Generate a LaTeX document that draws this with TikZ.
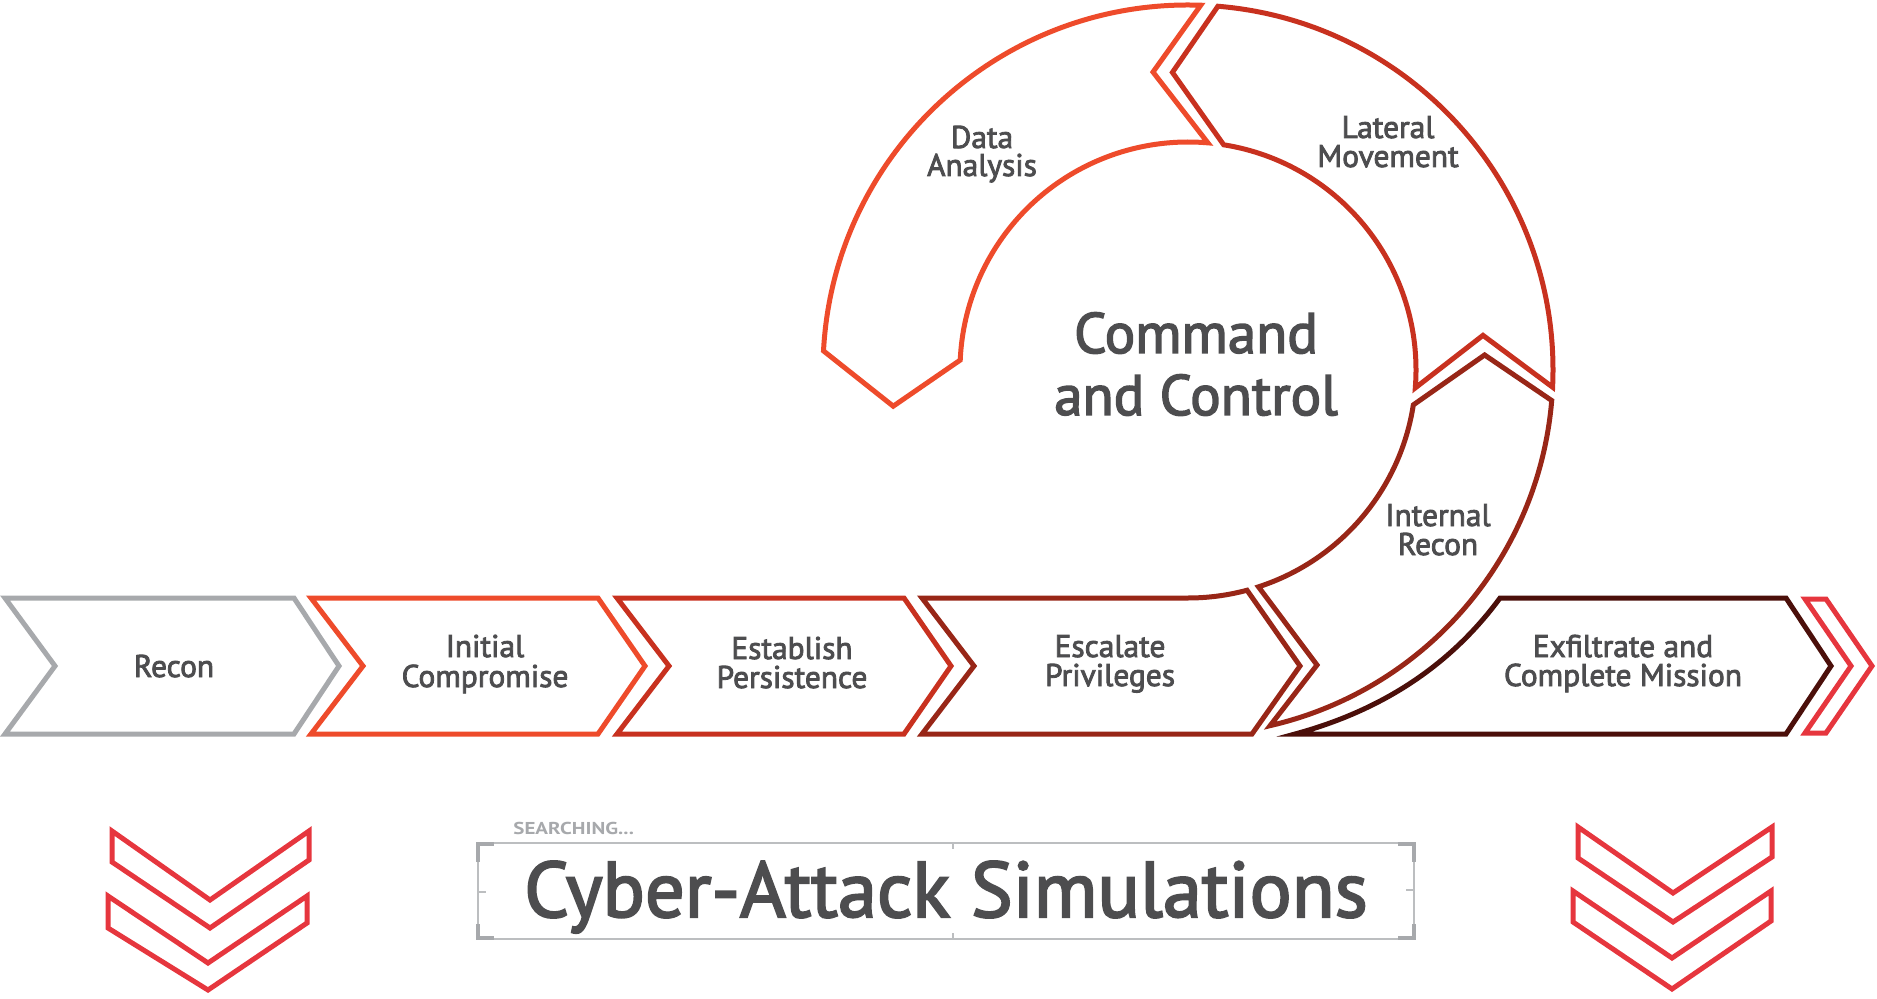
\documentclass[tikz,border=0pt]{standalone}
\usepackage{fontspec}
\setmainfont{PT Sans}
\newfontfamily\semib{PT Sans}[FakeBold=2.6]
\usetikzlibrary{calc}
\definecolor{cgray}{HTML}{A7A9AC}
\definecolor{corange}{HTML}{EE4B2B}
\definecolor{cred}{HTML}{C8311F}
\definecolor{cdark}{HTML}{982617}
\definecolor{cmaroon}{HTML}{4B0F0A}
\definecolor{cchev}{HTML}{E6363E}
\definecolor{ctxt}{HTML}{4D4D4F}
\definecolor{cbox}{HTML}{BCBEC0}
\begin{document}
\begin{tikzpicture}[x=0.5pt,y=-0.5pt,
  seg/.style={line width=2.5pt, line join=miter, fill=white},
  lbl/.style={font=\semib\fontsize{15.7}{16}\selectfont, text=ctxt, anchor=base, inner sep=0pt},
  biglbl/.style={font=\semib\fontsize{28.5}{30}\selectfont, text=ctxt, anchor=base, inner sep=0pt},
  chev/.style={line width=2.5pt, draw=cchev, line join=miter},
  bracket/.style={line width=2pt, draw=cgray},
  tick/.style={line width=0.75pt, draw=cbox}]
\useasboundingbox (0,0) rectangle (1877,999);
\coordinate (C) at (1188,370);

% ---- bottom row of stages ----
\draw[seg, draw=cgray]   (5,598) -- (294,598) -- (339,666) -- (294,734) -- (5,734) -- (55,666) -- cycle;
\draw[seg, draw=corange] (311,598) -- (598,598) -- (645,666) -- (598,734) -- (311,734) -- (363,666) -- cycle;
\draw[seg, draw=cred]    (617,598) -- (904,598) -- (951,666) -- (904,734) -- (617,734) -- (669,666) -- cycle;
\draw[seg, draw=cdark]   (922,598) -- (1188,598) arc[start angle=90, end angle=75, radius=228]
      -- (1300,666) -- (1252,734) -- (922,734) -- (974,666) -- cycle;
\draw[seg, draw=cmaroon] (1500,598) -- (1786,598) -- (1831,666) -- (1786,734) -- (1295,734)
      .. controls (1376,712) and (1447,670) .. (1500,598) -- cycle;
\draw[chev, fill=white] (1805,599) -- (1826,599) -- (1872,666) -- (1826,733) -- (1805,733) -- (1851,666) -- cycle;

% ---- command and control ring ----
\draw[seg, draw=corange] ($(C)+(-88:365)$) arc[start angle=-88, end angle=-177, radius=365]
      -- ($(C)+(-187:297)$) -- ($(C)+(-177.5:228)$) arc[start angle=-177.5, end angle=-85, radius=228]
      -- ($(C)+(-96.7:300)$) -- cycle;
\draw[seg, draw=cred] ($(C)+(-85.3:365)$) arc[start angle=-85.3, end angle=2.7, radius=365]
      -- ($(C)+(-6.7:297)$) -- ($(C)+(4.5:228)$) arc[start angle=4.5, end angle=-81, radius=228]
      -- ($(C)+(-93:298)$) -- cycle;
\draw[seg, draw=cdark] ($(C)+(4.8:365)$) arc[start angle=4.8, end angle=77, radius=365]
      -- (1317,665) -- ($(C)+(72:228)$) arc[start angle=72, end angle=8.8, radius=228]
      -- ($(C)+(-2.9:297)$) -- cycle;

% ---- labels ----
\node[lbl] (recon) at (174,677) {Recon};
\node[lbl] (ic1) at (485,657) {Initial};
\node[lbl] (ic2) at (485,687) {Compromise};
\node[lbl] (ep1) at (792,659) {Establish};
\node[lbl] (ep2) at (792,688) {Persistence};
\node[lbl] (es1) at (1110,657) {Escalate};
\node[lbl] (es2) at (1110,686) {Privileges};
\node[lbl] (ex1) at (1623,657) {Exfiltrate and};
\node[lbl] (ex2) at (1623,686) {Complete Mission};
\node[lbl] (da1) at (982,148) {Data};
\node[lbl] (da2) at (982,176) {Analysis};
\node[lbl] (lm1) at (1388,138) {Lateral};
\node[lbl] (lm2) at (1388,167) {Movement};
\node[lbl] (ir1) at (1438,526) {Internal};
\node[lbl] (ir2) at (1438,555) {Recon};
\node[biglbl] (cc1) at (1196,353) {Command};
\node[biglbl] (cc2) at (1196,415) {and Control};

% ---- title box ----
\draw[line width=0.75pt, draw=cbox] (478,843) rectangle (1414,939);
\draw[bracket] (478,862) -- (478,844) -- (494,844);
\draw[bracket] (478,924) -- (478,938) -- (494,938);
\draw[bracket] (1398,844) -- (1414,844) -- (1414,862);
\draw[bracket] (1398,938) -- (1414,938) -- (1414,924);
\draw[tick] (478,892) -- (486,892);
\draw[tick] (1406,890) -- (1414,890);
\draw[tick] (953,843) -- (953,849);
\draw[tick] (953,933) -- (953,939);
\node[anchor=base west, inner sep=0pt, text=cgray, font=\fontsize{8.6}{9}\selectfont\bfseries] (srch) at (513,834) {\scalebox{1.22}[1]{SEARCHING...}};
\node[anchor=base, inner sep=0pt, text=ctxt, font=\semib\fontsize{39.3}{40}\selectfont] (title) at (946,917) {Cyber-Attack Simulations};

% ---- decorative chevrons ----
\draw[chev] (112,831) -- (210,900) -- (309,831) -- (309,860) -- (210,928) -- (112,862) -- cycle;
\draw[chev] (108,896) -- (208,963) -- (307,896) -- (307,923) -- (208,990) -- (108,928) -- cycle;
\draw[chev] (1578,827) -- (1673,893) -- (1772,827) -- (1772,857) -- (1673,922) -- (1578,858) -- cycle;
\draw[chev] (1573,891) -- (1672,958) -- (1771,891) -- (1771,921) -- (1672,989) -- (1573,922) -- cycle;
\end{tikzpicture}
\end{document}
